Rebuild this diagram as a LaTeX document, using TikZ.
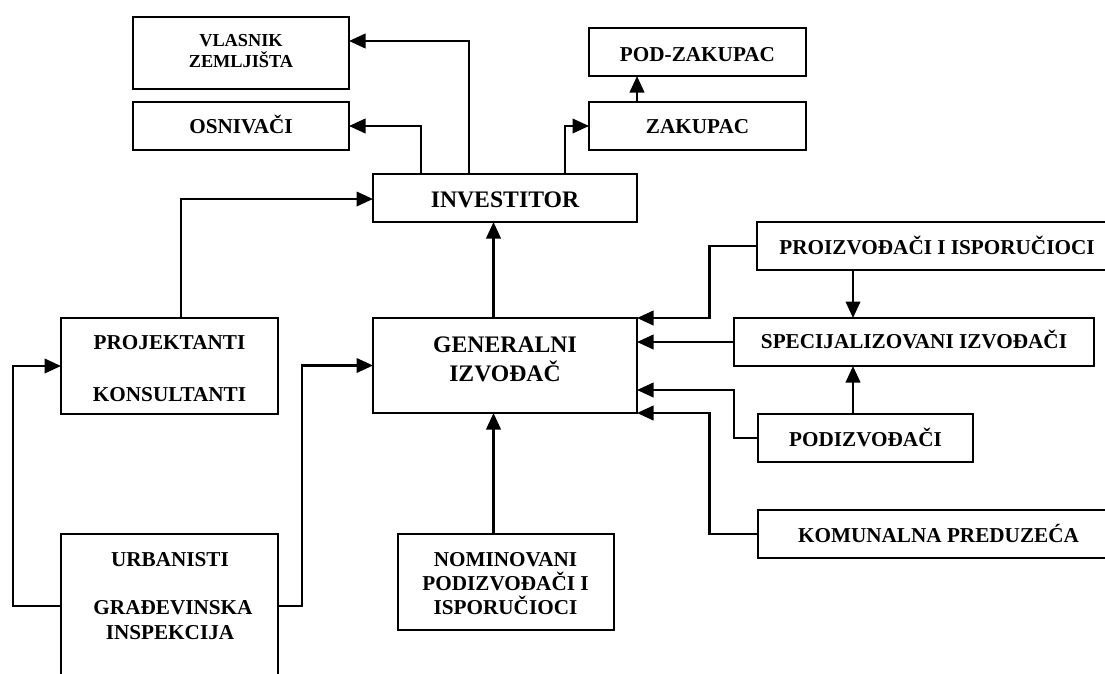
\documentclass[tikz,border=0pt]{standalone}
\usepackage{fontspec}
\setmainfont{Liberation Serif}
\usetikzlibrary{arrows.meta}

\tikzset{
  box/.style={draw, rectangle, line width=1.7pt, inner sep=0pt, outer sep=0pt},
  conn/.style={line width=2.3pt, -{Triangle[length=16.5pt,width=14.5pt]}},
  lbl/.style={inner sep=0pt, anchor=base, font=\bfseries\fontsize{21.2}{24}\selectfont},
  lblbig/.style={lbl, font=\bfseries\fontsize{23.7}{28}\selectfont},
  lblsmall/.style={lbl, font=\bfseries\fontsize{18.3}{21}\selectfont},
}

% box from its top-left to its bottom-right corner
\newcommand\mkbox[5]{%
  \node[box, anchor=north west, minimum width={(#4)-(#2)}, minimum height={(#5)-(#3)}] (#1) at (#2,#3) {};}

\begin{document}
\begin{tikzpicture}[x=1pt,y=-1pt]
\useasboundingbox (0,0) rectangle (1105,673);
\clip (0,0) rectangle (1105,673);
\fill[white] (0,0) rectangle (1105,673);

% boxes
\mkbox{vlasnik}{133}{17}{349}{89}
\mkbox{osnivaci}{133}{102}{349}{150}
\mkbox{inv}{373}{174}{637}{222}
\mkbox{podzak}{589}{28}{806}{76}
\mkbox{zak}{589}{102}{806}{150}
\mkbox{proiz}{757}{222}{1118}{270}
\mkbox{gen}{373}{318}{637}{413}
\mkbox{spec}{734}{318}{1094}{366}
\mkbox{podizv}{758}{414}{973}{462}
\mkbox{komun}{758}{510}{1118}{558}
\mkbox{nomin}{398}{534}{614}{630}
\mkbox{proj}{61}{318}{278}{414}
\mkbox{urb}{61}{534}{278}{700}

% labels
\node[lblsmall] (t-vl1) at (241,46) {VLASNIK};
\node[lblsmall] (t-vl2) at (241,67) {ZEMLJIŠTA};
\node[lbl] (t-osn) at (241,133) {OSNIVAČI};
\node[lblbig] (t-inv) at (505,207) {INVESTITOR};
\node[lbl] (t-pz) at (697.5,61) {POD-ZAKUPAC};
\node[lbl] (t-zak) at (697.5,133) {ZAKUPAC};
\node[lbl] (t-proiz) at (937,254) {PROIZVOĐAČI I ISPORUČIOCI};
\node[lbl] (t-spec) at (914,348) {SPECIJALIZOVANI IZVOĐAČI};
\node[lbl] (t-podizv) at (865.5,446) {PODIZVOĐAČI};
\node[lbl] (t-komun) at (938.5,542) {KOMUNALNA PREDUZEĆA};
\node[lblbig] (t-gen1) at (505,352) {GENERALNI};
\node[lblbig] (t-gen2) at (505,381) {IZVOĐAČ};
\node[lbl] (t-nom1) at (505.5,566) {NOMINOVANI};
\node[lbl] (t-nom2) at (505.5,590) {PODIZVOĐAČI I};
\node[lbl] (t-nom3) at (505.5,614) {ISPORUČIOCI};
\node[lbl] (t-proj1) at (169.5,349) {PROJEKTANTI};
\node[lbl] (t-proj2) at (169.5,401) {KONSULTANTI};
\node[lbl] (t-urb1) at (170,566) {URBANISTI};
\node[lbl] (t-urb2) at (173,614) {GRAĐEVINSKA};
\node[lbl] (t-urb3) at (170,639) {INSPEKCIJA};

% bend points of the connectors
\coordinate (kV) at (469,41);
\coordinate (kO) at (421,126);
\coordinate (kZ) at (565,126);
\coordinate (kP) at (637,0);
\coordinate (kJ) at (181,199);
\coordinate (kG) at (493.5,0);
\coordinate (kR) at (709.5,0);
\coordinate (kS) at (853,0);
\coordinate (kD) at (734,390);
\coordinate (kU) at (13,606);
\coordinate (kE) at (302,606);

% connectors
\draw[conn] (inv.north -| kV) |- (vlasnik.east |- kV);
\draw[conn] (inv.north -| kO) |- (osnivaci.east |- kO);
\draw[conn] (inv.north -| kZ) |- (zak.west);
\draw[conn] (zak.north -| kP) -- (podzak.south -| kP);
\draw[conn] (proj.north -| kJ) |- (inv.west |- kJ);
\draw[conn] (gen.north -| kG) -- (inv.south -| kG);
\draw[conn] (proiz.west) -| (kR |- gen.north east) -- (gen.north east);
\draw[conn] (proiz.south -| kS) -- (spec.north -| kS);
\draw[conn] (spec.west) -- (gen.east |- spec.west);
\draw[conn] (podizv.west) -| (kD) -- (gen.east |- kD);
\draw[conn] (podizv.north -| kS) -- (spec.south -| kS);
\draw[conn] (komun.west) -| (kR |- gen.south east) -- (gen.south east);
\draw[conn] (nomin.north -| kG) -- (gen.south -| kG);
\draw[conn] (urb.west |- kU) -| (kU |- proj.west) -- (proj.west);
\draw[conn] (urb.east |- kE) -| (kE |- gen.west) -- (gen.west);
\end{tikzpicture}
\end{document}
